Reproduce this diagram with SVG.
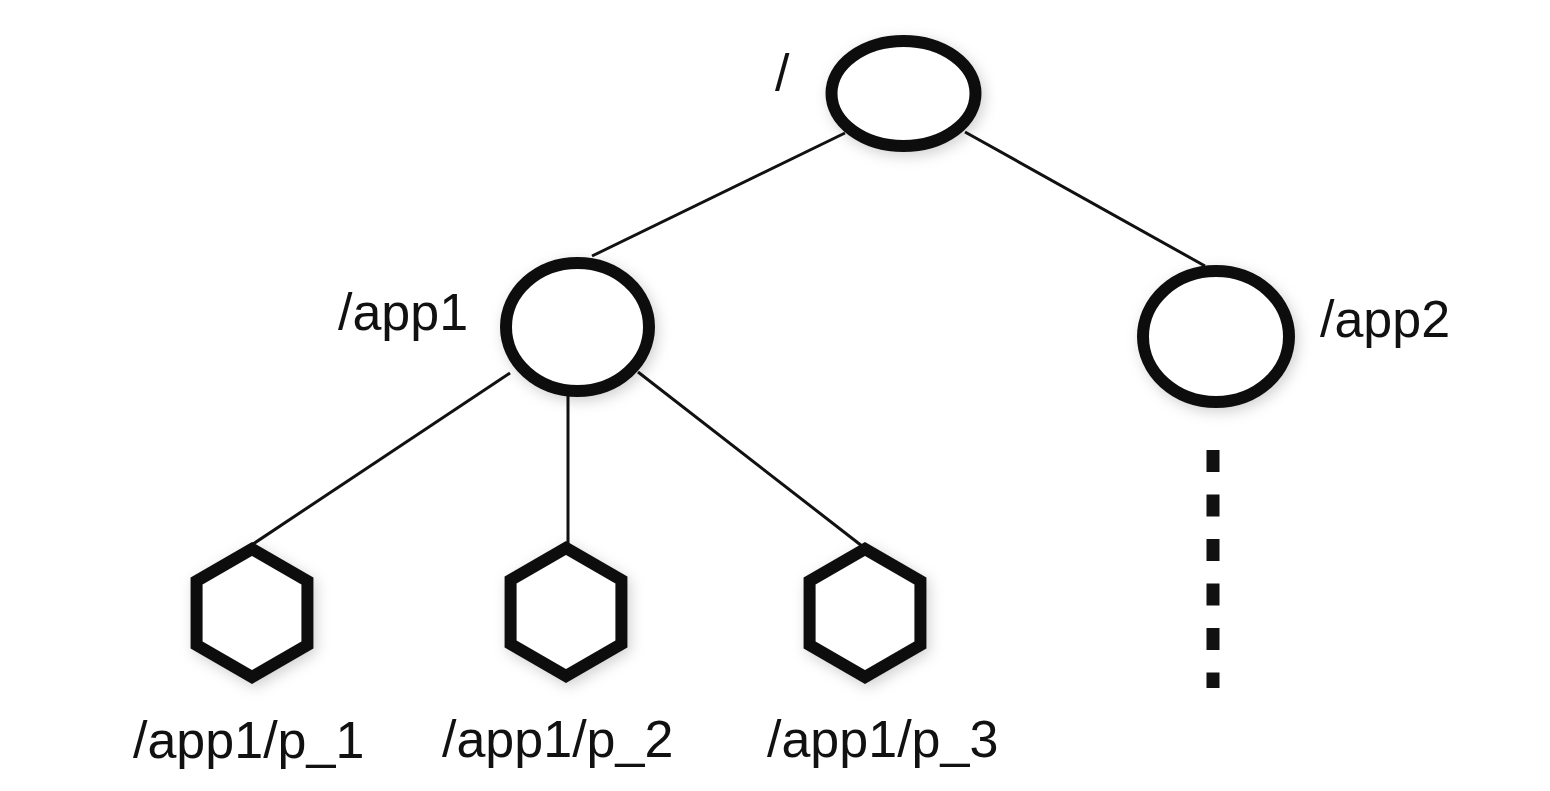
<svg xmlns="http://www.w3.org/2000/svg" width="1550" height="791" viewBox="0 0 1550 791">
  <style>
    .node { fill: #ffffff; stroke: #111111; stroke-width: 12; filter: url(#shadow); }
    .edge { stroke: #111111; stroke-width: 3; fill: none; }
    .dots { stroke: #111111; stroke-width: 13; stroke-dasharray: 22 22.5; fill: none; }
    .label { font-family: "Liberation Sans", Arial, sans-serif; font-size: 52px; fill: #111111; }
  </style>
  <defs>
    <filter id="shadow" x="-30%" y="-30%" width="160%" height="160%">
      <feDropShadow dx="3" dy="4" stdDeviation="7" flood-color="#000000" flood-opacity="0.18"/>
    </filter>
  </defs>
  <rect width="1550" height="791" fill="#ffffff"/>
  <g id="connectors">
    <line class="edge" x1="845" y1="133" x2="592" y2="256"/>
    <line class="edge" x1="965" y1="132" x2="1205" y2="266"/>
    <line class="edge" x1="510" y1="373" x2="253" y2="544"/>
    <line class="edge" x1="568" y1="396" x2="568" y2="544"/>
    <line class="edge" x1="638" y1="372" x2="862" y2="546"/>
    <line class="dots" x1="1213" y1="450" x2="1213" y2="688"/>
  </g>
  <g id="root">
    <ellipse class="node" cx="903.5" cy="93.5" rx="72" ry="52.5"/>
    <text class="label" x="775" y="91">/</text>
  </g>
  <g id="app1">
    <ellipse class="node" cx="577.5" cy="327" rx="71.5" ry="64"/>
    <text class="label" x="338" y="330">/app1</text>
  </g>
  <g id="app2">
    <ellipse class="node" cx="1216" cy="336.5" rx="73" ry="65.5"/>
    <text class="label" x="1320" y="337">/app2</text>
  </g>
  <g id="p1">
    <polygon class="node" points="252,549 307.4,581 307.4,645 252,677 196.6,645 196.6,581"/>
    <text class="label" x="133" y="758">/app1/p_1</text>
  </g>
  <g id="p2">
    <polygon class="node" points="566,548 621.4,580 621.4,644 566,676 510.6,644 510.6,580"/>
    <text class="label" x="442" y="757">/app1/p_2</text>
  </g>
  <g id="p3">
    <polygon class="node" points="865,549 920.4,581 920.4,645 865,677 809.6,645 809.6,581"/>
    <text class="label" x="767" y="757">/app1/p_3</text>
  </g>
</svg>
